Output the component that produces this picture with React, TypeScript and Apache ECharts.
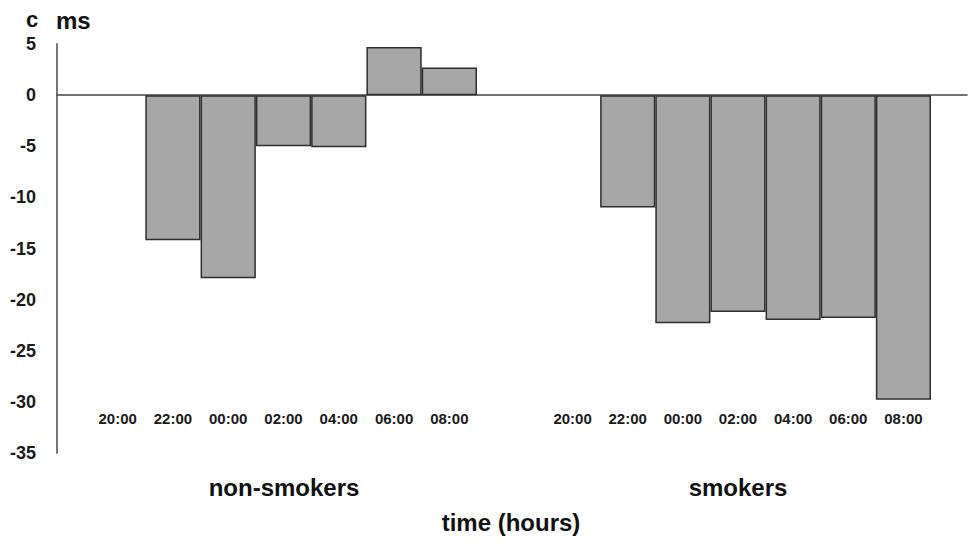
import React, { useEffect, useRef } from "react";
import * as echarts from "echarts";

const timeLabels = ["20:00", "22:00", "00:00", "02:00", "04:00", "06:00", "08:00"];
const nonSmokers: (number | null)[] = [null, -14.2, -17.9, -5.0, -5.1, 4.7, 2.7];
const smokers: (number | null)[] = [null, -11.0, -22.3, -21.2, -22.0, -21.8, -29.8];
const yMin = -35;
const yMax = 5;
const yStep = 5;

const FONT = "'Liberation Sans', Arial, Helvetica, sans-serif";

export default function App() {
  const ref = useRef<HTMLDivElement>(null);
  useEffect(() => {
    if (!ref.current) return;
    const chart = echarts.init(ref.current, null, { renderer: "svg" });
    const barStyle = {
      color: "#a7a7a7",
      borderColor: "#2e2e2e",
      borderWidth: 1.5,
    };
    const hiddenY = (gi: number) => ({
      type: "value" as const,
      gridIndex: gi,
      min: yMin,
      max: yMax,
      interval: yStep,
      show: false,
    });
    const catX = (gi: number) => ({
      type: "category" as const,
      gridIndex: gi,
      data: timeLabels,
      position: "bottom" as const,
      offset: -42,
      axisLine: { show: false, onZero: false },
      axisTick: { show: false },
      splitLine: { show: false },
      axisLabel: {
        margin: 0,
        color: "#1a1a1a",
        fontWeight: "bold" as const,
        fontSize: 15,
        fontFamily: FONT,
      },
    });
    chart.setOption({
      animation: false,
      backgroundColor: "#ffffff",
      grid: [
        { left: 57, top: 44, width: 910, height: 409 },
        { left: 90, top: 44, width: 387, height: 409 },
        { left: 545, top: 44, width: 386, height: 409 },
      ],
      xAxis: [
        {
          type: "value",
          gridIndex: 0,
          min: 0,
          max: 1,
          axisLine: { show: true, onZero: true, lineStyle: { color: "#444", width: 1.5 } },
          axisTick: { show: false },
          axisLabel: { show: false },
          splitLine: { show: false },
        },
        catX(1),
        catX(2),
      ],
      yAxis: [
        {
          type: "value",
          gridIndex: 0,
          min: yMin,
          max: yMax,
          interval: yStep,
          axisLine: { show: true, lineStyle: { color: "#777", width: 2 } },
          axisTick: { show: false },
          splitLine: { show: false },
          axisLabel: {
            margin: 21,
            color: "#1a1a1a",
            fontWeight: "bold",
            fontSize: 18,
            fontFamily: FONT,
          },
        },
        hiddenY(1),
        hiddenY(2),
      ],
      series: [
        {
          name: "non-smokers",
          type: "bar",
          xAxisIndex: 1,
          yAxisIndex: 1,
          data: nonSmokers,
          barWidth: "100%",
          barCategoryGap: "0%",
          itemStyle: barStyle,
        },
        {
          name: "smokers",
          type: "bar",
          xAxisIndex: 2,
          yAxisIndex: 2,
          data: smokers,
          barWidth: "100%",
          barCategoryGap: "0%",
          itemStyle: barStyle,
        },
      ],
      graphic: [
        {
          type: "text",
          left: 26,
          top: 8,
          style: { text: "c", fontSize: 22, fontWeight: "bold", fontFamily: FONT, fill: "#111" },
        },
        {
          type: "text",
          left: 56,
          top: 8,
          style: { text: "ms", fontSize: 24, fontWeight: "bold", fontFamily: FONT, fill: "#111" },
        },
        {
          type: "text",
          x: 284,
          y: 487,
          style: {
            text: "non-smokers",
            fontSize: 24,
            fontWeight: "bold",
            fontFamily: FONT,
            fill: "#111",
            align: "center",
            verticalAlign: "middle",
          },
        },
        {
          type: "text",
          x: 738,
          y: 487,
          style: {
            text: "smokers",
            fontSize: 24,
            fontWeight: "bold",
            fontFamily: FONT,
            fill: "#111",
            align: "center",
            verticalAlign: "middle",
          },
        },
        {
          type: "text",
          x: 511,
          y: 522,
          style: {
            text: "time (hours)",
            fontSize: 24,
            fontWeight: "bold",
            fontFamily: FONT,
            fill: "#111",
            align: "center",
            verticalAlign: "middle",
          },
        },
      ],
    });
    return () => chart.dispose();
  }, []);
  return (
    <div
      ref={ref}
      style={{ position: "fixed", left: 0, top: 0, width: 970, height: 542, background: "#fff" }}
    />
  );
}
